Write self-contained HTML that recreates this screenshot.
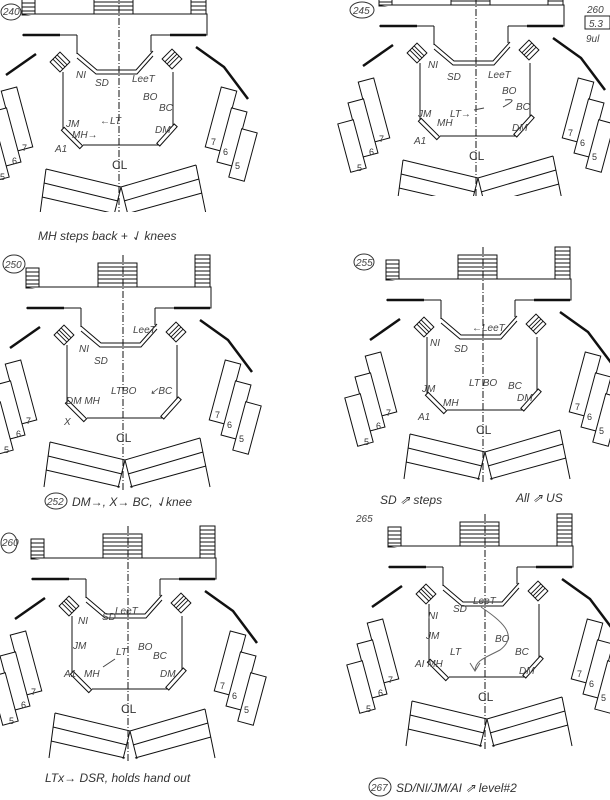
<!DOCTYPE html>
<html><head><meta charset="utf-8"><style>
html,body{margin:0;padding:0;background:#fff;}
svg{display:block}
text{font-family:"Liberation Sans",sans-serif;fill:#333;}
.h{font-size:10px;font-style:italic;fill:#444}
.cap{font-size:12px;font-style:italic;fill:#333}
</style></head><body>
<svg width="610" height="800" viewBox="0 0 610 800" xmlns="http://www.w3.org/2000/svg">
<defs>
<clipPath id="cl245"><rect x="0" y="0" width="610" height="196"/></clipPath>
<clipPath id="cl240"><rect x="0" y="0" width="610" height="212"/></clipPath>
<g id="p">
<g fill="none" stroke="#111" stroke-width="1">
 <rect x="26" y="268" width="13" height="20" fill="#fff"/>
 <path d="M26 272h13M26 276h13M26 280h13M26 284h13"/>
 <rect x="98" y="263" width="39" height="25" fill="#fff"/>
 <path d="M98 267h39M98 271h39M98 275h39M98 279h39M98 283h39"/>
 <rect x="195" y="255" width="15" height="32" fill="#fff"/>
 <path d="M195 259h15M195 263h15M195 267h15M195 271h15M195 275h15M195 279h15M195 283h15"/>
 <path d="M26 287H211V308H155M81 308H26Z" fill="#fff"/>
 <path d="M27 308H64M174 308H210" stroke-width="2.5"/>
 <path d="M81 308V327M155 308V325"/>
 <path d="M67 345L67 403M177 345L177 398M87 418H163"/>
 <path d="M81 326L101 343H140L157 324"/>
 <path d="M81 331L100 347H141L157 329"/>
 <g transform="translate(64,335) rotate(45)"><rect x="-7" y="-7" width="14" height="14" fill="#fff"/><path d="M-7 -3h14M-7 0h14M-7 3h14"/></g>
 <g transform="translate(176,332) rotate(-45)"><rect x="-7" y="-7" width="14" height="14" fill="#fff"/><path d="M-7 -3h14M-7 0h14M-7 3h14"/></g>
 <g transform="translate(76,411) rotate(45)"><rect x="-13" y="-2" width="26" height="4" fill="#fff"/></g>
 <g transform="translate(171,408) rotate(-48)"><rect x="-13" y="-2" width="26" height="4" fill="#fff"/></g>
 <path d="M10 348L40 327" stroke-width="2.5"/>
 <path d="M200 320L228 340L252 372" stroke-width="2.5"/>
 <g transform="translate(225,392) rotate(15)"><rect x="-8" y="-31" width="16" height="62" fill="#fff"/></g>
 <g transform="translate(236,410) rotate(15)"><rect x="-8" y="-28" width="16" height="56" fill="#fff"/></g>
 <g transform="translate(247,428) rotate(15)"><rect x="-8" y="-25" width="16" height="50" fill="#fff"/></g>
 <g transform="translate(21,392) rotate(-15)"><rect x="-8" y="-31" width="16" height="62" fill="#fff"/></g>
 <g transform="translate(10,410) rotate(-15)"><rect x="-8" y="-28" width="16" height="56" fill="#fff"/></g>
 <g transform="translate(-1,428) rotate(-15)"><rect x="-8" y="-25" width="16" height="50" fill="#fff"/></g>
 <path d="M50 442L125 460L200 438"/>
 <path d="M48 456L122 474M128 474L203 452"/>
 <path d="M46 470L120 487M130 487L206 466"/>
 <path d="M50 442L44 487M200 438L210 487M125 460L118 488M125 460L132 488"/>
 <path d="M123 255V492" stroke-dasharray="7 2 1 2"/>
</g>
<g font-size="9" fill="#222">
 <text x="215" y="418">7</text><text x="227" y="428">6</text><text x="239" y="442">5</text>
 <text x="26" y="424">7</text><text x="16" y="437">6</text><text x="4" y="453">5</text>
</g>
<text x="116" y="442" font-size="12" fill="#222">CL</text>
</g>
</defs>

<g clip-path="url(#cl240)"><use href="#p" transform="translate(-4,-273)"/></g>
<g clip-path="url(#cl245)"><use href="#p" transform="translate(353,-282)"/></g>
<use href="#p"/>
<use href="#p" transform="translate(360,-8)"/>
<use href="#p" transform="translate(5,271)"/>
<use href="#p" transform="translate(362,259)"/>

<!-- Panel 240 -->
<ellipse cx="11" cy="12" rx="10" ry="8" fill="none" stroke="#333"/><text x="3" y="15" class="h" font-size="8">240</text>
<text x="76" y="78" class="h">NI</text><text x="95" y="86" class="h">SD</text><text x="132" y="82" class="h">LeeT</text>
<text x="143" y="100" class="h">BO</text><text x="159" y="111" class="h">BC</text>
<text x="66" y="127" class="h">JM</text><text x="72" y="138" class="h">MH→</text><text x="100" y="124" class="h">←LT</text>
<text x="155" y="133" class="h">DM</text><text x="55" y="152" class="h">A1</text>
<text x="38" y="240" class="cap">MH steps back + ⇃ knees</text>

<!-- Panel 245 -->
<ellipse cx="362" cy="10" rx="12" ry="8" fill="none" stroke="#333"/><text x="353" y="14" class="h" font-size="8">245</text>
<text x="428" y="68" class="h">NI</text><text x="447" y="80" class="h">SD</text><text x="488" y="78" class="h">LeeT</text>
<text x="502" y="94" class="h">BO</text><text x="516" y="110" class="h">BC</text>
<text x="418" y="117" class="h">JM</text><text x="437" y="126" class="h">MH</text><text x="450" y="117" class="h">LT→</text>
<text x="512" y="131" class="h">DM</text><text x="414" y="144" class="h">A1</text>
<path d="M505 100 Q 520 98 503 107 M474 110 L484 108" fill="none" stroke="#444"/>
<text x="587" y="13" class="h" font-size="11">260</text>
<rect x="585" y="16" width="25" height="13" fill="none" stroke="#222"/><text x="589" y="27" class="h" font-size="11">5.3</text>
<text x="586" y="42" class="h" font-size="9">9ul</text>

<!-- Panel 250 -->
<ellipse cx="14" cy="264" rx="11" ry="9" fill="none" stroke="#333"/><text x="5" y="268" class="h" font-size="8">250</text>
<text x="79" y="352" class="h">NI</text><text x="94" y="364" class="h">SD</text><text x="133" y="333" class="h">LeeT</text>
<text x="111" y="394" class="h">LTBO</text><text x="150" y="394" class="h">↙BC</text>
<text x="66" y="404" class="h">DM MH</text><text x="64" y="425" class="h">X</text>
<ellipse cx="56" cy="501" rx="11" ry="8" fill="none" stroke="#333"/><text x="47" y="505" class="h" font-size="8">252</text>
<text x="72" y="506" class="cap">DM→, X→ BC, ⇃knee</text>

<!-- Panel 255 -->
<ellipse cx="364" cy="262" rx="10" ry="8" fill="none" stroke="#333"/><text x="356" y="266" class="h" font-size="8">255</text>
<text x="430" y="346" class="h">NI</text><text x="454" y="352" class="h">SD</text><text x="472" y="331" class="h">←LeeT</text>
<text x="469" y="386" class="h">LT BO</text><text x="508" y="389" class="h">BC</text>
<text x="422" y="392" class="h">JM</text><text x="443" y="406" class="h">MH</text>
<text x="517" y="401" class="h">DM</text><text x="418" y="420" class="h">A1</text>
<text x="380" y="504" class="cap">SD ⇗ steps</text><text x="516" y="502" class="cap">All ⇗ US</text>

<!-- Panel 260 -->
<ellipse cx="9" cy="543" rx="8" ry="10" fill="none" stroke="#333"/><text x="2" y="546" class="h" font-size="7">260</text>
<text x="78" y="624" class="h">NI</text><text x="102" y="620" class="h">SD</text><text x="115" y="614" class="h">LeeT</text>
<text x="73" y="649" class="h">JM</text><text x="116" y="655" class="h">LT</text><text x="138" y="650" class="h">BO</text>
<text x="153" y="659" class="h">BC</text><text x="84" y="677" class="h">MH</text><text x="64" y="677" class="h">A1</text>
<text x="160" y="677" class="h">DM</text><path d="M115 659 L103 667" stroke="#444" fill="none"/>
<text x="45" y="782" class="cap">LTx→ DSR, holds hand out</text>

<!-- Panel 265 -->
<text x="356" y="522" class="h" font-size="8">265</text>
<text x="428" y="619" class="h">NI</text><text x="453" y="612" class="h">SD</text><text x="473" y="604" class="h">LeeT</text>
<text x="426" y="639" class="h">JM</text><text x="450" y="655" class="h">LT</text><text x="495" y="642" class="h">BO</text>
<text x="515" y="655" class="h">BC</text><text x="415" y="667" class="h">AI MH</text><text x="519" y="674" class="h">DM</text>
<path d="M481 607 C 500 620 520 635 500 650 C 485 658 476 660 475 670 M470 663 L475 671 L480 663" fill="none" stroke="#666"/>
<ellipse cx="380" cy="787" rx="11" ry="9" fill="none" stroke="#333"/><text x="371" y="791" class="h" font-size="8">267</text>
<text x="396" y="792" class="cap">SD/NI/JM/AI ⇗ level#2</text>
</svg>
</body></html>
